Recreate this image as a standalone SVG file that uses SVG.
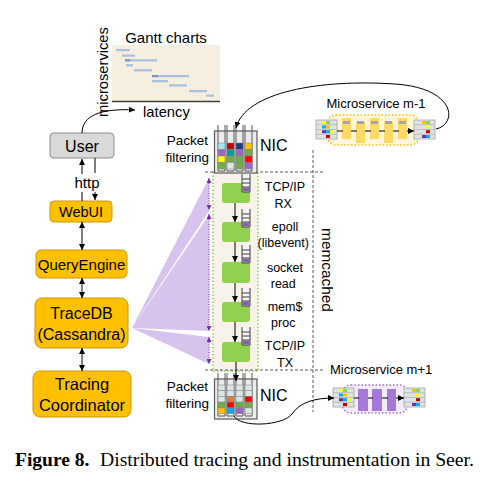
<svg xmlns="http://www.w3.org/2000/svg" width="480" height="485" viewBox="0 0 480 485">
<style>
.sans{font-family:"Liberation Sans",Arial,sans-serif;fill:#000}
.serif{font-family:"Liberation Serif","Times New Roman",serif;fill:#000}
.ob{fill:#ffc000;stroke:#c8980a;stroke-width:1}
.ln{fill:none;stroke:#000;stroke-width:1}
.gb{fill:#92d050}
.dash{fill:none;stroke:#595959;stroke-width:1;stroke-dasharray:3 2}
.bar{fill:#aabfe2}
.c{stroke:#808080;stroke-width:0.5}
.lt{fill:#dbe5e5}
.tube{fill:none;stroke:#595959;stroke-width:1}
.fan{fill:#d8c3ee}
.pd{fill:none;stroke:#7030a0;stroke-width:1;stroke-dasharray:1 1.5}
</style>
<defs>
<marker id="ah" viewBox="0 0 6 6" refX="6" refY="3" markerWidth="6" markerHeight="6" markerUnits="userSpaceOnUse" orient="auto-start-reverse"><path d="M0,0 L6,3 L0,6 z" fill="#000"/></marker>
<marker id="ahp" viewBox="0 0 6 6" refX="6" refY="3" markerWidth="5" markerHeight="5" markerUnits="userSpaceOnUse" orient="auto-start-reverse"><path d="M0,0 L6,3 L0,6 z" fill="#7030a0"/></marker>
<g id="q"><rect x="0" y="0" width="8" height="18" fill="#f4f4f4"/><path d="M0,0V18M8,0V18M0,18H8M0,5H8M0,9H8M0,13H8" stroke="#404040" stroke-width="1" fill="none"/><rect x="0.5" y="13.5" width="7" height="4" fill="#8064a2"/></g>
<g id="blkL"><rect x="0" y="0" width="21" height="19" fill="#dde3e3" stroke="#a6a6a6" stroke-width="0.8"/><path d="M0,4.75H21M0,9.5H21M0,14.25H21" stroke="#a6a6a6" stroke-width="0.6"/><rect x="6" y="1" width="4" height="3" fill="#ffff00"/><rect x="10" y="1" width="4" height="3" fill="#92d050"/><rect x="6" y="5.5" width="4" height="3" fill="#00b0f0"/><rect x="10" y="5.5" width="4" height="3" fill="#ffc000"/><rect x="6" y="10.2" width="4" height="3" fill="#7030a0"/><rect x="10" y="10.2" width="4" height="3" fill="#00b0f0"/><rect x="14" y="10.2" width="4" height="3" fill="#ffff00"/><rect x="10" y="15" width="4" height="3" fill="#c00000"/></g>
<g id="blkR"><rect x="0" y="0" width="21" height="19" fill="#dde3e3" stroke="#a6a6a6" stroke-width="0.8"/><path d="M0,4.75H21M0,9.5H21M0,14.25H21" stroke="#a6a6a6" stroke-width="0.6"/><rect x="8" y="1" width="4" height="3" fill="#ffc000"/><rect x="12" y="1" width="4" height="3" fill="#92d050"/><rect x="12" y="5.5" width="4" height="3" fill="#ffff00"/><rect x="12" y="10.2" width="4" height="3" fill="#c00000"/><rect x="8" y="15" width="4" height="3" fill="#7030a0"/><rect x="12" y="15" width="4" height="3" fill="#00b0f0"/></g>
</defs>

<!-- Gantt chart -->
<g id="gantt">
<rect x="112" y="45" width="108" height="56" fill="#f4efde"/>
<path d="M112,101.5H220" stroke="#404040" stroke-width="1.5"/>
<rect class="bar" x="116" y="49" width="14" height="2.2"/>
<rect class="bar" x="122" y="54.5" width="13" height="2.2"/>
<rect class="bar" x="125" y="59.2" width="32" height="2.2"/>
<rect x="125" y="59.2" width="5" height="2.2" fill="#7f95c4"/>
<rect class="bar" x="126" y="64.2" width="7" height="2.2"/>
<rect class="bar" x="134" y="69.2" width="18" height="2.2"/>
<rect class="bar" x="152" y="75" width="37" height="2.2"/>
<rect x="152" y="75" width="6" height="2.2" fill="#7f95c4"/>
<rect class="bar" x="152" y="80" width="16" height="2.2"/>
<rect class="bar" x="169" y="84.3" width="18" height="2.2"/>
<rect class="bar" x="189" y="90" width="18" height="2.2"/>
<rect class="bar" x="206" y="94.5" width="8" height="2.2"/>
<text class="sans" x="166" y="43" font-size="15" text-anchor="middle">Gantt charts</text>
<text class="sans" font-size="14.7" text-anchor="middle" transform="translate(108,72) rotate(-90)">microservices</text>
<text class="sans" x="143" y="117" font-size="14.8">latency</text>
</g>

<!-- purple fans -->
<g id="fans">
<polygon class="fan" points="132,328 209,178 209,211"/>
<polygon class="fan" points="132,328 209,215 209,331"/>
<polygon class="fan" points="132,328 209,337 209,364"/>
</g>

<!-- left stack -->
<g id="user">
<rect x="50" y="133" width="64" height="25" rx="4" fill="#d9d9d9" stroke="#8c8c8c" stroke-width="1"/>
<text class="sans" x="82" y="151.5" font-size="16" text-anchor="middle">User</text>
</g>
<g id="webui">
<rect class="ob" x="50" y="201" width="62" height="21" rx="4"/>
<text class="sans" x="81" y="216.5" font-size="14.5" text-anchor="middle">WebUI</text>
</g>
<g id="queryengine">
<rect class="ob" x="36" y="250" width="91" height="28" rx="5"/>
<text class="sans" x="81.5" y="269.5" font-size="15" text-anchor="middle">QueryEngine</text>
</g>
<g id="tracedb">
<rect class="ob" x="35" y="298" width="93" height="50" rx="7"/>
<text class="sans" x="81.5" y="319" font-size="16" text-anchor="middle">TraceDB</text>
<text class="sans" x="81.5" y="340" font-size="16" text-anchor="middle">(Cassandra)</text>
</g>
<g id="tracingcoord">
<rect class="ob" x="33" y="371" width="98" height="46" rx="7"/>
<text class="sans" x="82" y="390" font-size="16.5" text-anchor="middle">Tracing</text>
<text class="sans" x="82" y="411" font-size="16.5" text-anchor="middle">Coordinator</text>
</g>
<text class="sans" x="87" y="188" font-size="15" text-anchor="middle">http</text>

<!-- memcached container -->
<g id="memcached">
<rect x="213" y="172" width="45" height="199" fill="#f7f3ea" stroke="#92d050" stroke-width="1.5" stroke-dasharray="1.5 2"/>
<rect class="gb" x="222" y="183" width="28" height="20" rx="3"/>
<rect class="gb" x="222" y="222" width="28" height="20" rx="3"/>
<rect class="gb" x="222" y="262" width="28" height="21" rx="3"/>
<rect class="gb" x="222" y="302" width="28" height="20" rx="3"/>
<rect class="gb" x="222" y="342" width="28" height="20" rx="3"/>
<use href="#q" x="242" y="174"/>
<use href="#q" x="242" y="209"/>
<use href="#q" x="242" y="245"/>
<use href="#q" x="242" y="288"/>
<use href="#q" x="242" y="327"/>
<text class="sans" font-size="12.5" text-anchor="middle">
<tspan x="285" y="191">TCP/IP</tspan><tspan x="285" y="208">RX</tspan>
<tspan x="285" y="231">epoll</tspan><tspan x="285" y="247">(libevent)</tspan>
<tspan x="285" y="272">socket</tspan><tspan x="285" y="288">read</tspan>
<tspan x="285" y="311">mem$</tspan><tspan x="285" y="327">proc</tspan>
<tspan x="285" y="350">TCP/IP</tspan><tspan x="285" y="367">TX</tspan>
</text>
<text class="sans" font-size="15.4" text-anchor="middle" transform="translate(322,270) rotate(90)">memcached</text>
</g>

<!-- separators -->
<g id="separators">
<path class="dash" d="M205,172H323M205,370H323M313,150V412"/>
<text class="sans" x="330" y="374" font-size="13">Microservice m+1</text>
</g>

<!-- NIC top -->
<g id="nic-top">
<rect x="214.5" y="131" width="42.5" height="42" fill="#ececec" stroke="#595959" stroke-width="1.2"/>
<path class="tube" d="M218,125V171M225,125V171M227,125V171M234,125V171M236,125V171M243,125V171M245,125V171M252,125V171M218,171H225M227,171H234M236,171H243M245,171H252"/>
<g class="c">
<rect x="218" y="143" width="7" height="6.5" fill="#9ee6f0"/><rect x="218" y="149.5" width="7" height="6.5" fill="#a064c8"/><rect x="218" y="156" width="7" height="6.5" fill="#ffff00"/><rect x="218" y="162.5" width="7" height="6.5" fill="#70ad47"/>
<rect x="227" y="143" width="7" height="6.5" fill="#c00000"/><rect x="227" y="149.5" width="7" height="6.5" fill="#00a0a0"/><rect x="227" y="156" width="7" height="6.5" fill="#70ad47"/><rect x="227" y="162.5" width="7" height="6.5" fill="#dbe5e5"/>
<rect x="236" y="143" width="7" height="6.5" fill="#1f3a7a"/><rect x="236" y="149.5" width="7" height="6.5" fill="#a064c8"/><rect x="236" y="156" width="7" height="6.5" fill="#70ad47"/><rect x="236" y="162.5" width="7" height="6.5" fill="#70ad47"/>
<rect x="245" y="143" width="7" height="6.5" fill="#ffc000"/><rect x="245" y="149.5" width="7" height="6.5" fill="#70ad47"/><rect x="245" y="156" width="7" height="6.5" fill="#ff0000"/><rect x="245" y="162.5" width="7" height="6.5" fill="#a064c8"/>
</g>
<text class="sans" x="260" y="151" font-size="16">NIC</text>
<text class="sans" x="208" y="145" font-size="13.5" text-anchor="end">Packet</text>
<text class="sans" x="209" y="162" font-size="13.5" text-anchor="end">filtering</text>
</g>

<!-- NIC bottom -->
<g id="nic-bottom">
<rect x="214.5" y="379" width="42.5" height="40" fill="#ececec" stroke="#595959" stroke-width="1.2"/>
<path class="tube" d="M218,373V416M225,373V416M227,373V416M234,373V416M236,373V416M243,373V416M245,373V416M252,373V416M218,416H225M227,416H234M236,416H243M245,416H252"/>
<g class="c">
<rect class="lt" x="218" y="385" width="7" height="5.5"/><rect class="lt" x="227" y="385" width="7" height="5.5"/><rect class="lt" x="236" y="385" width="7" height="5.5"/><rect class="lt" x="245" y="385" width="7" height="5.5"/>
<rect class="lt" x="218" y="390.5" width="7" height="5.8"/><rect class="lt" x="227" y="390.5" width="7" height="5.8"/><rect class="lt" x="236" y="390.5" width="7" height="5.8"/><rect class="lt" x="245" y="390.5" width="7" height="5.8"/>
<rect class="lt" x="218" y="396.3" width="7" height="5.8"/><rect x="227" y="396.3" width="7" height="5.8" fill="#e07b39"/><rect class="lt" x="236" y="396.3" width="7" height="5.8"/><rect x="245" y="396.3" width="7" height="5.8" fill="#ff0000"/>
<rect x="218" y="402.1" width="7" height="5.8" fill="#70ad47"/><rect x="227" y="402.1" width="7" height="5.8" fill="#ff0000"/><rect x="236" y="402.1" width="7" height="5.8" fill="#70ad47"/><rect x="245" y="402.1" width="7" height="5.8" fill="#70ad47"/>
<rect x="218" y="407.9" width="7" height="5.8" fill="#ffc000"/><rect x="227" y="407.9" width="7" height="5.8" fill="#00b0f0"/><rect x="236" y="407.9" width="7" height="5.8" fill="#a064c8"/><rect x="245" y="407.9" width="7" height="5.8" fill="#dbe5e5"/>
</g>
<text class="sans" x="260" y="401" font-size="16">NIC</text>
<text class="sans" x="208" y="391" font-size="13.5" text-anchor="end">Packet</text>
<text class="sans" x="209" y="408" font-size="13.5" text-anchor="end">filtering</text>
</g>

<!-- Microservice m-1 -->
<g id="ms-m-1">
<text class="sans" x="376" y="108" font-size="13" text-anchor="middle">Microservice m-1</text>
<rect x="327" y="115" width="92" height="30" rx="9" fill="#fff5da" stroke="#ffc000" stroke-width="1.5" stroke-dasharray="1.5 2"/>
<g fill="#ffd966">
<rect x="342" y="118" width="9" height="21"/><rect x="356" y="122" width="9" height="21"/><rect x="370" y="118" width="9" height="21"/><rect x="384" y="122" width="9" height="21"/><rect x="398" y="118" width="9" height="21"/>
</g>
<g fill="#a6a6a6"><rect x="343" y="121" width="7" height="3"/><rect x="357" y="121" width="7" height="3"/><rect x="371" y="121" width="7" height="3"/><rect x="385" y="121" width="7" height="3"/><rect x="399" y="121" width="7" height="3"/></g>
<use href="#blkL" x="316" y="120"/>
<use href="#blkR" x="414" y="120"/>
<path class="ln" marker-end="url(#ah)" d="M337,131H343M351,131H357M365,131H371M379,131H385M393,131H399M407,131H414"/>
</g>

<!-- Microservice m+1 -->
<g id="ms-m-plus-1">
<rect x="342" y="385" width="66" height="28" rx="9" fill="#f3ecf8" stroke="#a070d0" stroke-width="1.5" stroke-dasharray="1.5 2"/>
<g fill="#a678d8"><rect x="358" y="389" width="10" height="22"/><rect x="372" y="389" width="10" height="22"/><rect x="387" y="389" width="9" height="22"/></g>
<use href="#blkL" x="333" y="388"/>
<use href="#blkR" x="404" y="388"/>
<path class="ln" marker-end="url(#ah)" d="M354,398H359M368,398H373M382,398H388M396,398H404"/>
</g>

<!-- connectors -->
<g id="connectors">
<path class="ln" marker-end="url(#ah)" d="M82,133 C82,116 100,108 135,110"/>
<path class="ln" marker-end="url(#ah)" d="M82,174V159"/>
<path class="ln" d="M82,192V201"/>
<path class="ln" d="M95,158V173"/>
<path class="ln" marker-end="url(#ah)" d="M95,192V200"/>
<path class="ln" marker-start="url(#ah)" marker-end="url(#ah)" d="M82,222V250"/>
<path class="ln" marker-start="url(#ah)" marker-end="url(#ah)" d="M82,278V298"/>
<path class="ln" marker-start="url(#ah)" marker-end="url(#ah)" d="M82,348V371"/>
<path class="ln" marker-end="url(#ah)" d="M235,203V222"/>
<path class="ln" marker-end="url(#ah)" d="M235,242V262"/>
<path class="ln" marker-end="url(#ah)" d="M235,283V302"/>
<path class="ln" marker-end="url(#ah)" d="M235,322V342"/>
<path class="ln" marker-end="url(#ah)" d="M236,362V381"/>
<path class="ln" marker-end="url(#ah)" d="M436,129 C458,124 456,88 395,84 C320,79 245,92 236,128"/>
<path class="ln" marker-end="url(#ah)" d="M234,416 C240,428 283,426 292,414 C300,402 315,398 334,398"/>
<path class="pd" marker-start="url(#ahp)" marker-end="url(#ahp)" d="M209,178V210"/>
<path class="pd" marker-start="url(#ahp)" marker-end="url(#ahp)" d="M209,214V331"/>
<path class="pd" marker-start="url(#ahp)" marker-end="url(#ahp)" d="M209,337V364"/>
</g>

<!-- caption -->
<text class="serif" x="15" y="466" font-size="19.5" font-weight="bold">Figure 8.</text>
<text class="serif" x="100" y="466" font-size="19.7">Distributed tracing and instrumentation in Seer.</text>
</svg>
